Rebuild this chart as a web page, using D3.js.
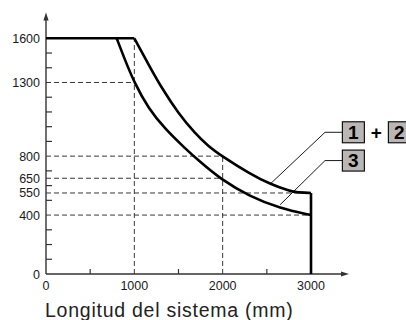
<!DOCTYPE html>
<html>
<head>
<meta charset="utf-8">
<script src="https://cdn.jsdelivr.net/npm/d3@7"></script>
<style>
  html, body { margin: 0; padding: 0; background: #fff; }
  svg { display: block; }
  text { font-family: "Liberation Sans", Arial, Helvetica, sans-serif; }
</style>
</head>
<body>
<svg id="chart" width="406" height="320"></svg>
<script>
// ---- data ----
const xTickLabels = [0, 1000, 2000, 3000];
const yTickLabels = [0, 400, 550, 650, 800, 1300, 1600];
const xMinorTicks = [500, 1500, 2500];
const yMinorTicks = [100, 200, 300, 500, 600, 700, 900, 1000, 1100, 1200, 1400, 1500];

// series "1 + 2" (upper limit curve)
const upperX = [1000, 1158, 1310, 1498, 1687, 1837, 1989, 2309, 2536, 2762, 2819, 3000];
const upperY = [1600, 1425, 1262, 1091, 955, 868, 801, 680, 611, 563, 555, 550];
// series "3" (lower limit curve)
const lowerX = [800, 894, 1000, 1158, 1347, 1574, 1743, 1970, 2309, 2649, 3000];
const lowerY = [1600, 1453, 1299, 1125, 985, 853, 762, 647, 525, 446, 400];

const plateauLevel = 1600;   // flat maximum
const plateauEnd = 1000;
const maxLength = 3000;
const endLevel = 550;

// reference (dashed) guides: [x0, y, x1] and [x, y0, y1] in data units
const guideH = [[0, 1300, 1000], [0, 800, 2000], [0, 650, 2000], [0, 550, 3000], [0, 400, 3000]];
const guideV = [[1000, 0, 1600], [2000, 0, 800]];

const seriesLabels = [["1", "2"], ["3"]];
const xTitle = "Longitud del sistema (mm)";

// ---- layout ----
const svg = d3.select("#chart");
const x = d3.scaleLinear().domain([0, 3000]).range([46, 311]);
const y = d3.scaleLinear().domain([0, 1600]).range([274, 38.3]);
const x0 = x(0), y0 = y(0);

// dashed guides
const gGuides = svg.append("g")
  .attr("stroke", "#3a3a3a").attr("stroke-width", 1)
  .attr("stroke-dasharray", "5,3").attr("fill", "none");
guideH.forEach(([a, v, b]) => {
  gGuides.append("line").attr("x1", x(a)).attr("x2", x(b)).attr("y1", y(v)).attr("y2", y(v));
});
guideV.forEach(([v, a, b]) => {
  gGuides.append("line").attr("x1", x(v)).attr("x2", x(v)).attr("y1", y(a)).attr("y2", y(b));
});

// axes
const axisColor = "#333";
svg.append("line").attr("x1", x0).attr("x2", 343).attr("y1", y0).attr("y2", y0)
  .attr("stroke", axisColor).attr("stroke-width", 1.4);
svg.append("path").attr("d", `M349,${y0} L341,${y0 - 2.6} L341,${y0 + 2.6} Z`).attr("fill", axisColor);
svg.append("line").attr("x1", x0).attr("x2", x0).attr("y1", y0).attr("y2", 19)
  .attr("stroke", axisColor).attr("stroke-width", 1.4);
svg.append("path").attr("d", `M${x0},12.5 L${x0 - 2.6},20.5 L${x0 + 2.6},20.5 Z`).attr("fill", axisColor);

// minor ticks
svg.append("g").selectAll("line").data(yMinorTicks).join("line")
  .attr("x1", x0).attr("x2", x0 + 6).attr("y1", d => y(d)).attr("y2", d => y(d))
  .attr("stroke", axisColor).attr("stroke-width", 1.2);
svg.append("g").selectAll("line").data(xMinorTicks).join("line")
  .attr("x1", d => x(d)).attr("x2", d => x(d)).attr("y1", y0).attr("y2", y0 - 5)
  .attr("stroke", axisColor).attr("stroke-width", 1.2);

// tick labels
svg.append("g").selectAll("text").data(yTickLabels).join("text")
  .attr("x", 40).attr("y", d => y(d)).attr("dy", "0.36em")
  .attr("text-anchor", "end").attr("font-size", 12.5).attr("fill", "#1a1a1a")
  .text(d => d);
svg.append("g").selectAll("text").data(xTickLabels).join("text")
  .attr("x", d => x(d)).attr("y", 290)
  .attr("text-anchor", "middle").attr("font-size", 12.5).attr("fill", "#1a1a1a")
  .text(d => d);

// axis title
svg.append("text").attr("x", 45).attr("y", 316.5)
  .attr("font-size", 19.5).attr("letter-spacing", 0.75).attr("fill", "#222")
  .text(xTitle);

// curves
const thick = { stroke: "#000", width: 2.6 };
const lineLin = d3.line().x(d => x(d[0])).y(d => y(d[1]));
const lineCurve = d3.line().x(d => x(d[0])).y(d => y(d[1])).curve(d3.curveBasis);

const upperPts = upperX.map((v, i) => [v, upperY[i]]);
const lowerPts = lowerX.map((v, i) => [v, lowerY[i]]);

function draw(pathD) {
  svg.append("path").attr("d", pathD).attr("fill", "none")
    .attr("stroke", thick.stroke).attr("stroke-width", thick.width)
    .attr("stroke-linejoin", "miter").attr("stroke-linecap", "butt");
}
draw(lineLin([[0, plateauLevel], [plateauEnd, plateauLevel]]));
draw(lineCurve(upperPts));
draw(lineCurve(lowerPts));
draw(lineLin([[maxLength, endLevel], [maxLength, 0]]));

// legend leaders and boxes (positions in data units)
const legend = [
  { anchor: [2540, 612], elbow: [3159, 962], boxX: 3355, labels: seriesLabels[0] },
  { anchor: [2650, 470], elbow: [3159, 770], boxX: 3355, labels: seriesLabels[1] }
];
const boxW = 22, boxH = 21;
legend.forEach(L => {
  const ey = y(L.elbow[1]);
  svg.append("path")
    .attr("d", `M${x(L.anchor[0])},${y(L.anchor[1])} L${x(L.elbow[0])},${ey} L${x(L.boxX)},${ey}`)
    .attr("fill", "none").attr("stroke", "#000").attr("stroke-width", 0.9);
  let bx = x(L.boxX);
  L.labels.forEach((lab, i) => {
    if (i > 0) {
      svg.append("text").attr("x", bx + 12).attr("y", ey).attr("dy", "0.36em")
        .attr("text-anchor", "middle").attr("font-size", 19).attr("font-weight", "bold")
        .attr("fill", "#000").text("+");
      bx += 24;
    }
    svg.append("rect").attr("x", bx).attr("y", ey - boxH / 2).attr("width", boxW).attr("height", boxH)
      .attr("fill", "#bab6b6").attr("stroke", "#000").attr("stroke-width", 1.1);
    svg.append("text").attr("x", bx + boxW / 2).attr("y", ey).attr("dy", "0.36em")
      .attr("text-anchor", "middle").attr("font-size", 19).attr("font-weight", "bold")
      .attr("fill", "#000").text(lab);
    bx += boxW;
  });
});
</script>
</body>
</html>
